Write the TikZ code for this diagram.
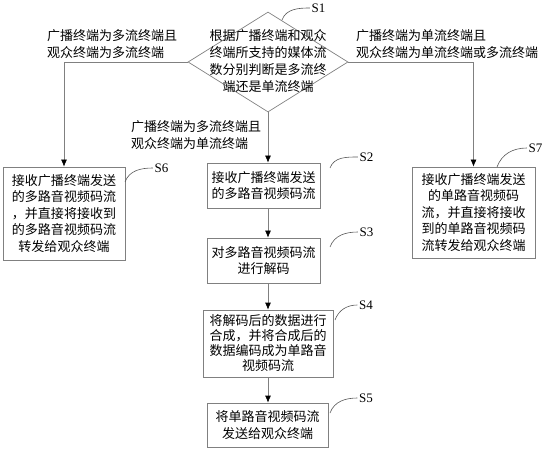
\documentclass[tikz,border=0pt]{standalone}
\usepackage{fontspec}
\setmainfont{Liberation Serif}
\newfontfamily\cjk{Noto Sans CJK SC}
\usetikzlibrary{arrows.meta,shapes.geometric}
\begin{document}
\begin{tikzpicture}[x=1bp,y=-1bp,
  lc/.style={draw=black!50, line width=0.7bp},
  box/.style={lc, rectangle, inner sep=0pt, align=center,
    font=\cjk\fontsize{13bp}{16.5bp}\selectfont},
  lab/.style={inner sep=0pt, align=left, font=\cjk\fontsize{13bp}{16.5bp}\selectfont},
  arr/.style={lc, -{Latex[black,length=7bp,width=6bp]}},
  slab/.style={inner sep=1.5bp, font=\fontsize{13bp}{15bp}\selectfont},
  curv/.style={draw=black!65, line width=0.6bp}]
\useasboundingbox (0,0) rectangle (543,450);

% decision
\node[lc, diamond, minimum width=160bp, minimum height=100bp, inner sep=0pt] (d) at (268,62) {};
\node[lab, align=center, font=\cjk\fontsize{13bp}{16.7bp}\selectfont] (dt) at (268,61)
  {根据广播终端和观众\\终端所支持的媒体流\\数分别判断是多流终\\端还是单流终端};

% boxes
\node[box, minimum width=122bp, minimum height=93bp] (s6) at (64,213.5)
  {接收广播终端发送\\的多路音视频码流\\，并直接将接收到\\的多路音视频码流\\转发给观众终端};
\node[box, minimum width=113bp, minimum height=45bp] (s2) at (263.5,185.5)
  {接收广播终端发送\\的多路音视频码流};
\node[box, minimum width=113bp, minimum height=45bp] (s3) at (263.5,260.5)
  {对多路音视频码流\\进行解码};
\node[box, minimum width=130bp, minimum height=67bp, font=\cjk\fontsize{13bp}{15bp}\selectfont] (s4) at (268,343.5)
  {将解码后的数据进行\\合成，并将合成后的\\数据编码成为单路音\\视频码流};
\node[box, minimum width=121bp, minimum height=44bp] (s5) at (267.5,425)
  {将单路音视频码流\\发送给观众终端};
\node[box, minimum width=123bp, minimum height=91bp] (s7) at (473.5,212.5)
  {接收广播终端发送\\的单路音视频码\\流，并直接将接收\\到的单路音视频码\\流转发给观众终端};

% branch labels
\node[lab, anchor=west] (la) at (47,44) {广播终端为多流终端且\\观众终端为多流终端};
\node[lab, anchor=west] (lb) at (356,44) {广播终端为单流终端且\\观众终端为单流终端或多流终端};
\node[lab, anchor=west] (lc) at (131,135) {广播终端为多流终端且\\观众终端为单流终端};

% connectors
\draw[arr] (d.west) -| (s6.north);
\draw[arr] (d.east) -| (s7.north);
\draw[arr] (d.south) -- (d.south |- s2.north);
\draw[arr] (s2.south -| d.south) -- (s3.north -| d.south);
\draw[arr] (s3.south -| d.south) -- (s4.north -| d.south);
\draw[arr] (s4.south -| d.south) -- (s5.north -| d.south);

% step labels
\node[slab] (l1) at (318.5,8) {S1};
\node[slab] (l2) at (366.5,157) {S2};
\node[slab] (l3) at (366.5,232) {S3};
\node[slab] (l4) at (366,305) {S4};
\node[slab] (l5) at (366,398) {S5};
\node[slab] (l6) at (161.5,168) {S6};
\node[slab] (l7) at (535.5,148) {S7};

\coordinate (c1) at (282,20);
\coordinate (c2) at (330,168);
\coordinate (c3) at (330,247);
\coordinate (c4) at (335,320);
\coordinate (c5) at (330,413);
\coordinate (c6) at (125,182);
\coordinate (c7) at (497,167);
\draw[curv] (c1) to[out=70,in=180] (l1.west);
\draw[curv] (c2) to[out=70,in=180] (l2.west);
\draw[curv] (c3) to[out=70,in=180] (l3.west);
\draw[curv] (c4) to[out=70,in=180] (l4.west);
\draw[curv] (c5) to[out=70,in=180] (l5.west);
\draw[curv] (c6) to[out=70,in=180] (l6.west);
\draw[curv] (c7) to[out=70,in=180] (l7.west);
\end{tikzpicture}
\end{document}
